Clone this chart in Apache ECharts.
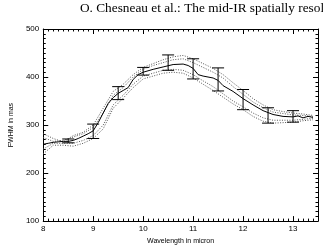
<!DOCTYPE html>
<html><head><meta charset="utf-8">
<script src="https://cdn.jsdelivr.net/npm/echarts@6/dist/echarts.min.js"></script>
<style>html,body{margin:0;padding:0;background:#fff}#c{width:323px;height:250px}</style>
</head><body><div id="c"></div>
<script>
var headerText = "O. Chesneau et al.: The mid-IR spatially resolved";
var xName = "Wavelength in micron";
var yName = "FWHM in mas";

var mainWl  = [8.0,8.1,8.2,8.3,8.4,8.5,8.6,8.7,8.8,8.9,9.0,9.1,9.2,9.3,9.4,9.5,9.6,9.7,9.8,9.9,10.0,10.2,10.4,10.6,10.8,10.9,11.0,11.1,11.2,11.4,11.5,11.6,11.8,12.0,12.2,12.4,12.6,12.8,13.0,13.1,13.2,13.3,13.4];
var mainVal = [260,262,264,265,266,266,268,272,277,282,288,305,325,345,357,366,372,378,395,405,410,416,421,426,427,424,418,405,402,398,393,382,370,355,342,330,322,318,317,319,315,318,316];

var dotWl   = [8.0,8.2,8.4,8.6,8.8,9.0,9.2,9.4,9.6,9.8,10.0,10.2,10.4,10.6,10.8,11.0,11.2,11.4,11.6,11.8,12.0,12.2,12.4,12.6,12.8,13.0,13.2,13.4];
var upperA  = [282,272,265,278,285,300,335,370,385,405,420,428,436,442,445,438,428,418,405,388,372,355,342,332,328,325,323,320];
var upperB  = [274,266,268,275,282,295,325,362,378,400,416,424,430,436,438,430,420,410,398,380,364,348,336,327,324,321,320,318];
var lowerB  = [250,262,262,262,268,278,300,342,362,385,402,408,414,416,414,405,392,380,365,350,338,325,315,310,310,310,312,314];
var lowerA  = [240,258,258,256,262,272,292,335,356,378,396,402,408,410,408,398,385,372,358,344,332,318,308,304,305,306,309,311];

var errWl   = [8.5,9.0,9.5,10.0,10.5,11.0,11.5,12.0,12.5,13.0];
var errLow  = [263,272,353,404,414,396,371,332,304,306];
var errHigh = [271,302,380,420,446,438,419,374,336,330];

var xTicks = [8,9,10,11,12,13];
var yTicks = [100,200,300,400,500];

function pairs(xs, ys){ return xs.map(function(x,i){return [x, ys[i]];}); }

var chart = echarts.init(document.getElementById('c'), null, {renderer:'canvas'});
var axisCommon = {
  type:'value',
  axisLine:{show:true, onZero:false, lineStyle:{color:'#000', width:1}},
  axisTick:{show:true, inside:true, length:5, lineStyle:{color:'#000'}},
  minorTick:{show:true, splitNumber:10, length:2.5, lineStyle:{color:'#000'}},
  splitLine:{show:false}
};
var lab = {color:'#000', fontFamily:'Liberation Sans', fontSize:8};
function dotted(name, ys){
  return {type:'line', name:name, data:pairs(dotWl, ys), symbol:'none', smooth:false,
    lineStyle:{color:'#555', width:1, type:[1,1.5]}, z:2, silent:true};
}
chart.setOption({
  animation:false,
  backgroundColor:'#fff',
  title:{text:headerText, left:80, top:2, padding:0, textStyle:{fontFamily:'Liberation Serif', fontSize:13.3, fontWeight:'normal', color:'#000'}},
  grid:{left:33, right:5, top:29, bottom:21, containLabel:false},
  xAxis:[
    Object.assign({}, axisCommon, {position:'bottom', min:8, max:13.5, interval:1,
      name:xName, nameLocation:'middle', nameGap:14,
      nameTextStyle:{fontFamily:'Liberation Sans', fontSize:7, color:'#000'},
      axisLabel:Object.assign({margin:4, customValues:xTicks}, lab)}),
    Object.assign({}, axisCommon, {position:'top', min:8, max:13.5, interval:1, axisLabel:{show:false}})
  ],
  yAxis:[
    Object.assign({}, axisCommon, {position:'left', min:100, max:500, interval:100,
      name:yName, nameLocation:'middle', nameGap:22,
      nameTextStyle:{fontFamily:'Liberation Sans', fontSize:7, color:'#000'},
      axisLabel:Object.assign({margin:4, customValues:yTicks}, lab)}),
    Object.assign({}, axisCommon, {position:'right', min:100, max:500, interval:100, axisLabel:{show:false}})
  ],
  series:[
    dotted('upperA', upperA), dotted('upperB', upperB), dotted('lowerB', lowerB), dotted('lowerA', lowerA),
    {type:'line', name:'main', data:pairs(mainWl, mainVal), symbol:'none', lineStyle:{color:'#000', width:1}, z:3},
    {type:'custom', name:'err', z:4,
     data:errWl.map(function(x,i){return [x, errLow[i], errHigh[i]];}),
     renderItem:function(params, api){
       var lo = api.coord([api.value(0), api.value(1)]);
       var hi = api.coord([api.value(0), api.value(2)]);
       var w = 6;
       var st = {stroke:'#000', lineWidth:1};
       return {type:'group', children:[
         {type:'line', shape:{x1:lo[0], y1:lo[1], x2:hi[0], y2:hi[1]}, style:st},
         {type:'line', shape:{x1:lo[0]-w, y1:lo[1], x2:lo[0]+w, y2:lo[1]}, style:st},
         {type:'line', shape:{x1:hi[0]-w, y1:hi[1], x2:hi[0]+w, y2:hi[1]}, style:st}
       ]};
     }}
  ]
});
</script></body></html>
